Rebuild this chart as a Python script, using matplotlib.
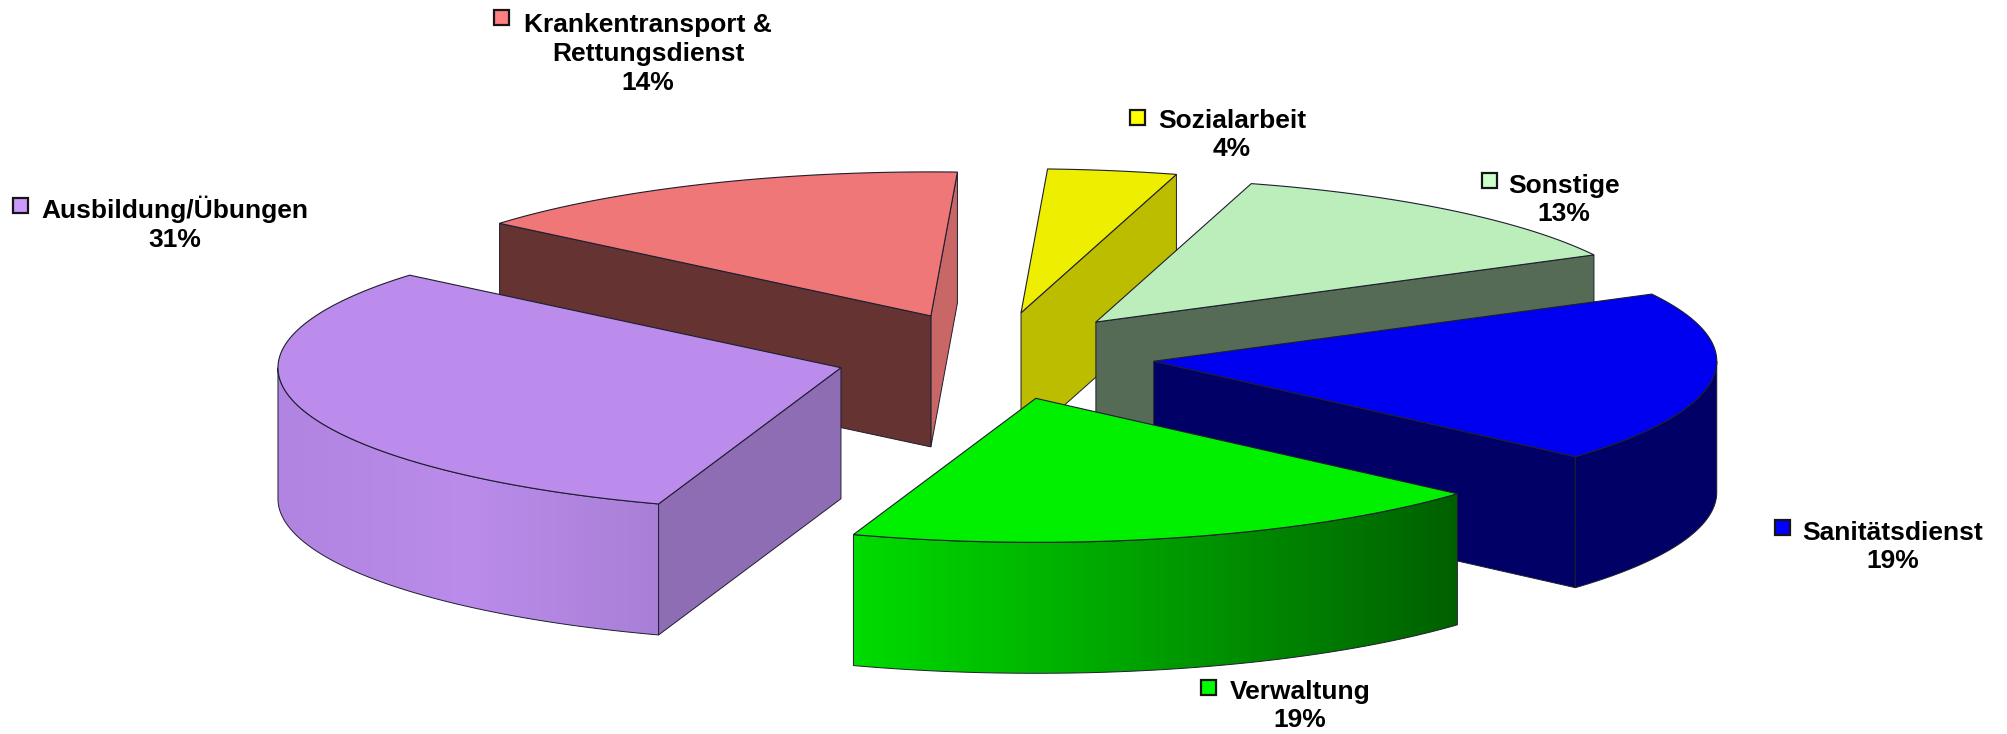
import numpy as np
import matplotlib
matplotlib.use('Agg')
import matplotlib.pyplot as plt
from matplotlib.colors import LinearSegmentedColormap
from matplotlib.patches import Rectangle, Polygon

plt.rcParams['font.family'] = ['Liberation Sans', 'DejaVu Sans']

# slices, counter clockwise starting at the purple one
names = ['Ausbildung/Übungen', 'Verwaltung', 'Sanitätsdienst', 'Sonstige', 'Sozialarbeit',
         'Krankentransport &\nRettungsdienst']
percents = [31, 19, 19, 13, 4, 14]
shares = [30.86, 18.72, 19.25, 12.83, 3.7, 14.64]

# colours
top_colors = ['#BB8CEB', '#00F000', '#0000F0', '#BBEEBB', '#EEEE00', '#EF7777']
key_colors = ['#CC99FF', '#00FF00', '#0000FF', '#CCFFCC', '#FFFF00', '#FF8080']
start_face = [None, None, '#000066', '#566B56', '#BDBD00', '#C96666']
end_face = ['#8F6DB5', None, None, None, None, '#663333']
rim_colors = [['#B084E0', '#BB8CEB', '#A87FD6'], ['#00DC00', '#006000'], ['#000066', '#000066'],
              ['#566B56', '#566B56'], ['#BDBD00', '#BDBD00'], ['#C96666', '#C96666']]
line_color = '#1E1E30'

# projection of the pie (pixels)
cx, cy = 995, 356
rx, ry = 563, 144
depth = 131
explode_x, explode_y = 0.284, 0.304
start_angle = 140

# text position of each label, then key position
label_x = [175, 1300, 1893, 1564, 1232, 648]
label_y = [224, 706, 547, 200, 135, 54]
key_x = [13, 1201, 1775, 1482, 1130, 494]
key_y = [198, 680, 520, 173, 110, 10]
key_size = 15
draw_order = [5, 4, 3, 2, 0, 1]


def project(th, r, off, z=0):
    t = np.radians(th)
    x = r * np.cos(t)
    y = r * np.sin(t)
    return cx + rx * (x + off[0]), cy - ry * (y + off[1]) + z


fig = plt.figure(figsize=(20.08, 7.34), dpi=100)
ax = fig.add_axes([0, 0, 1, 1])
ax.set_xlim(0, 2008)
ax.set_ylim(734, 0)
ax.set_autoscale_on(False)
ax.axis('off')

spans = np.array(shares) / sum(shares) * 360
starts = (start_angle + np.concatenate([[0], np.cumsum(spans)[:-1]])) % 360

zo = 1
for i in draw_order:
    a1, a2 = starts[i], starts[i] + spans[i]
    mid = np.radians((a1 + a2) / 2)
    off = (explode_x * np.cos(mid), explode_y * np.sin(mid))
    apex = project(0, 0, off)

    # radial side faces
    for ang, col in [(a1, start_face[i]), (a2, end_face[i])]:
        if col is None:
            continue
        px, py = project(ang, 1, off)
        xs = [apex[0], px, px, apex[0]]
        ys = [apex[1], py, py + depth, apex[1] + depth]
        ax.fill(xs, ys, facecolor=col, edgecolor=line_color, linewidth=0.7, zorder=zo)

    # outer rim, only the part turned to the viewer
    lo, hi = max(a1, 180), min(a2, 360)
    if lo < hi:
        th = np.linspace(lo, hi, 100)
        rim_x, rim_y = project(th, 1, off)
        cmap = LinearSegmentedColormap.from_list('rim', rim_colors[i])
        poly = Polygon(np.c_[np.r_[rim_x, rim_x[::-1]], np.r_[rim_y, rim_y[::-1] + depth]],
                       closed=True, facecolor='none', edgecolor=line_color, linewidth=0.7, zorder=zo + 0.2)
        ax.add_patch(poly)
        im = ax.imshow(np.linspace(0, 1, 256)[None, :], cmap=cmap, aspect='auto', zorder=zo,
                       extent=[rim_x.min(), rim_x.max(), rim_y.max() + depth, rim_y.min()])
        im.set_clip_path(poly)

    # top of the slice
    th = np.linspace(a1, a2, 100)
    top_x, top_y = project(th, 1, off)
    ax.fill(np.r_[apex[0], top_x], np.r_[apex[1], top_y], facecolor=top_colors[i],
            edgecolor=line_color, linewidth=0.8, zorder=zo + 0.5)
    zo += 1

for i in range(len(names)):
    ax.text(label_x[i], label_y[i], f'{names[i]}\n{percents[i]}%', ha='center', va='center',
            fontsize=19, fontweight='bold', color='black', linespacing=1.25, zorder=20)
    ax.add_patch(Rectangle((key_x[i], key_y[i]), key_size, key_size, facecolor=key_colors[i],
                           edgecolor='#151515', linewidth=1.6, zorder=20))

fig.savefig('out.png', dpi=100)
